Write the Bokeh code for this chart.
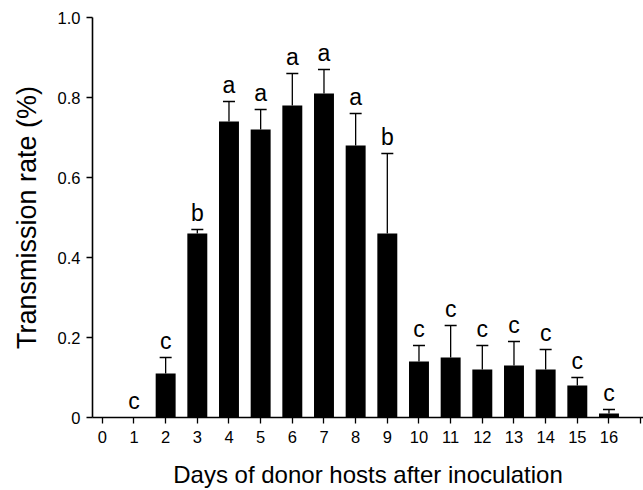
from bokeh.plotting import figure
from bokeh.models import Range1d, FixedTicker, ColumnDataSource, Whisker, TeeHead
from bokeh.core.properties import value
from bokeh.embed import file_html
from bokeh.resources import INLINE

# ---- data ----
days = [1, 2, 3, 4, 5, 6, 7, 8, 9, 10, 11, 12, 13, 14, 15, 16]
rate = [0.0, 0.11, 0.46, 0.74, 0.72, 0.78, 0.81, 0.68, 0.46, 0.14, 0.15, 0.12, 0.13, 0.12, 0.08, 0.01]
upper = [0.0, 0.15, 0.47, 0.79, 0.77, 0.86, 0.87, 0.76, 0.66, 0.18, 0.23, 0.18, 0.19, 0.17, 0.10, 0.02]
letters = ["c", "c", "b", "a", "a", "a", "a", "a", "b", "c", "c", "c", "c", "c", "c", "c"]

x_ticks = list(range(0, 18))
x_tick_labels = [str(d) for d in range(0, 17)] + [""]
y_ticks = [0, 0.2, 0.4, 0.6, 0.8, 1.0]
y_tick_labels = ["0", "0.2", "0.4", "0.6", "0.8", "1.0"]

x_title = "Days of donor hosts after inoculation"
y_title = "Transmission rate (%)"

FONT = "Liberation Sans"

p = figure(width=643, height=490, output_backend="svg", toolbar_location=None,
           x_range=Range1d(-0.31, 17.09), y_range=Range1d(0, 1.0),
           min_border_left=92, min_border_right=0, min_border_top=17, min_border_bottom=72)
p.outline_line_color = None
p.xgrid.visible = False
p.ygrid.visible = False
p.background_fill_color = "white"
p.border_fill_color = "white"

src = ColumnDataSource(dict(day=days, rate=rate, upper=upper, letter=letters))
p.vbar(x="day", top="rate", width=0.63, source=src, fill_color="black", line_color=None)

err_idx = [i for i in range(len(days)) if upper[i] > rate[i]]
esrc = ColumnDataSource(dict(day=[days[i] for i in err_idx],
                             rate=[rate[i] for i in err_idx],
                             upper=[upper[i] for i in err_idx]))
w = Whisker(source=esrc, base="day", lower="rate", upper="upper",
            line_color="black", line_width=1.3,
            lower_head=None,
            upper_head=TeeHead(size=12, line_color="black", line_width=1.3))
p.add_layout(w)

p.text(x="day", y="upper", text="letter", source=src,
       text_font=value(FONT), text_font_size="23px", text_color="black",
       text_align="center", text_baseline="alphabetic", y_offset=-17)

for ax in (p.xaxis[0], p.yaxis[0]):
    ax.axis_line_width = 1.6
    ax.axis_line_color = "black"
    ax.major_tick_line_color = "black"
    ax.major_tick_line_width = 1.3
    ax.major_tick_out = 6
    ax.major_tick_in = 0
    ax.minor_tick_line_color = None
    ax.major_label_text_font = FONT
    ax.major_label_text_font_size = "16.5px"
    ax.major_label_text_color = "black"
    ax.axis_label_text_font = FONT
    ax.axis_label_text_font_style = "normal"
    ax.axis_label_text_color = "black"

p.xaxis.ticker = FixedTicker(ticks=x_ticks)
p.xaxis.major_label_overrides = {t: l for t, l in zip(x_ticks, x_tick_labels)}
p.xaxis.major_label_standoff = 7
p.xaxis.axis_label = x_title
p.xaxis.axis_label_text_font_size = "24px"
p.xaxis.axis_label_standoff = 15

p.yaxis.ticker = FixedTicker(ticks=y_ticks)
p.yaxis.major_label_overrides = {t: l for t, l in zip(y_ticks, y_tick_labels)}
p.yaxis.major_label_standoff = 6
p.yaxis.axis_label = y_title
p.yaxis.axis_label_text_font_size = "27px"
p.yaxis.axis_label_standoff = 13

open("out.html", "w").write(file_html(p, INLINE))
